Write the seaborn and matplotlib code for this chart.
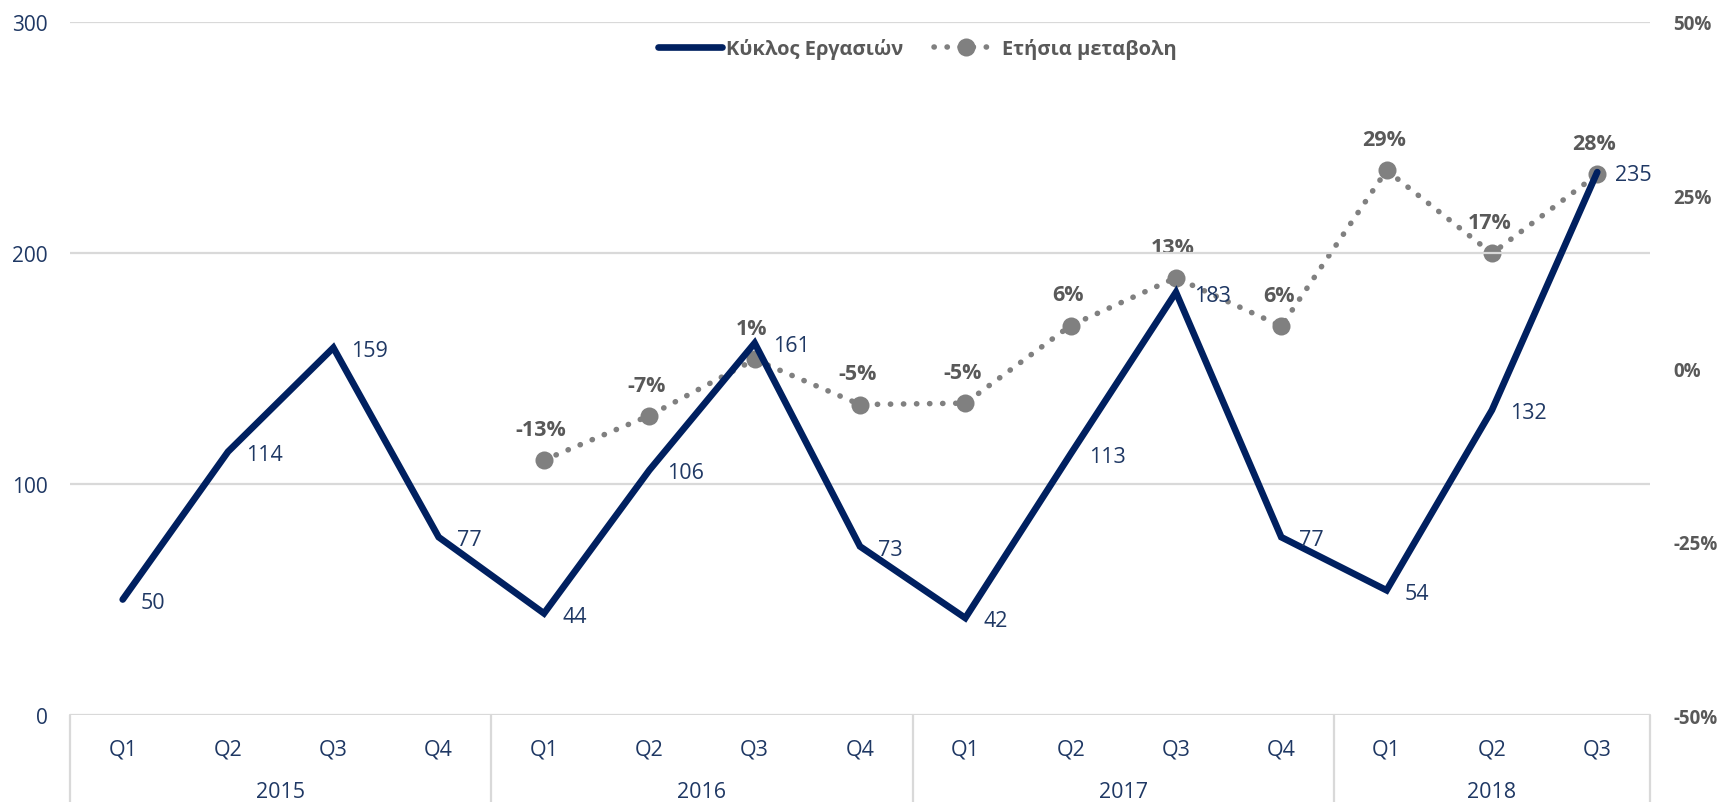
import numpy as np
import pandas as pd
import matplotlib
matplotlib.use("Agg")
import matplotlib.pyplot as plt
import matplotlib.transforms as mtrans
import seaborn as sns

# ----------------------------------------------------------
# Data
# ----------------------------------------------------------

years = ["2015", "2016", "2017", "2018"]
quarters = ["Q1", "Q2", "Q3", "Q4", "Q1", "Q2", "Q3", "Q4",
            "Q1", "Q2", "Q3", "Q4", "Q1", "Q2", "Q3"]
quarters_per_year = [4, 4, 4, 3]

turnover = [50, 114, 159, 77, 44, 106, 161, 73, 42, 113, 183, 77, 54, 132, 235]
yoy_change = [np.nan, np.nan, np.nan, np.nan,
              -13.2, -6.8, 1.3, -5.2, -5.0, 6.2, 13.1, 6.1, 28.6, 16.6, 28.0]

left_ticks = [0, 100, 200, 300]
right_ticks = [-50, -25, 0, 25, 50]

NAVY = "#002060"
LABEL_BLUE = "#1F3864"
GREY = "#808080"
DARK_GREY = "#595959"
GRID = "#D9D9D9"

# ----------------------------------------------------------
# Settings
# ----------------------------------------------------------

sns.set_theme(style="white")
plt.rcParams["font.family"] = ["Open Sans", "DejaVu Sans"]

df = pd.DataFrame({
    "pos": np.arange(len(quarters)) + 0.5,
    "quarter": quarters,
    "turnover": turnover,
    "yoy": yoy_change,
})

fig = plt.figure(figsize=(17.21, 8.03), dpi=100)
ax = fig.add_axes([0.0407, 0.1083, 0.918, 0.8631])
ax2 = ax.twinx()

# ----------------------------------------------------------
# Lines
# ----------------------------------------------------------

sns.lineplot(data=df, x="pos", y="turnover", ax=ax, color=NAVY,
             linewidth=4.8, sort=False, solid_joinstyle="miter",
             label="Κύκλος Εργασιών", legend=False)

sns.lineplot(data=df.dropna(), x="pos", y="yoy", ax=ax2, color=GREY,
             linewidth=4.0, sort=False, marker="o", markersize=13,
             markeredgewidth=0, dashes=False, legend=False,
             label="Ετήσια μεταβολη")
for ln in ax2.get_lines():
    ln.set_linestyle((0, (0.05, 2.3)))
    ln.set_dash_capstyle("round")

# ----------------------------------------------------------
# Data labels
# ----------------------------------------------------------

for x, v in zip(df["pos"], df["turnover"]):
    ax.annotate(f"{v}", (x, v), xytext=(13, -2), textcoords="offset points",
                ha="left", va="center", fontsize=15.5, color=LABEL_BLUE)

for x, v in zip(df["pos"], df["yoy"]):
    if np.isnan(v):
        continue
    ax2.annotate(f"{v:.0f}%", (x, v), xytext=(-2, 22), textcoords="offset points",
                 ha="center", va="center", fontsize=15.5, color=DARK_GREY,
                 fontweight="bold")

# ----------------------------------------------------------
# Axes
# ----------------------------------------------------------

ax.set_xlim(0, len(quarters))
ax.set_ylim(0, 300)
ax2.set_ylim(-50, 50)

ax.set_yticks(left_ticks)
ax.set_yticklabels([str(t) for t in left_ticks], fontsize=15, color=LABEL_BLUE)
ax2.set_yticks(right_ticks)
ax2.set_yticklabels([f"{t}%" for t in right_ticks], fontsize=13.5,
                    color=DARK_GREY, fontweight="bold")
ax.tick_params(axis="y", length=0, pad=16)
ax2.tick_params(axis="y", length=0, pad=17)

ax.set_xticks([])
ax.set_xlabel("")
ax.set_ylabel("")
ax2.set_ylabel("")

for a in (ax, ax2):
    for s in a.spines.values():
        s.set_visible(False)

ax.grid(False)
ax2.grid(False)
for t in left_ticks:
    ax.axhline(t, color=GRID, linewidth=1.6, zorder=0)
ax.set_zorder(ax2.get_zorder() + 1)
ax.patch.set_visible(False)

# multi-level category axis
trans = mtrans.blended_transform_factory(ax.transData, ax.transAxes)
for x, q in zip(df["pos"], df["quarter"]):
    ax.text(x, -0.049, q, transform=trans, ha="center", va="center",
            fontsize=15.5, color=LABEL_BLUE)

start = 0
bounds = [0]
for y, n in zip(years, quarters_per_year):
    ax.text(start + n / 2, -0.11, y, transform=trans, ha="center",
            va="center", fontsize=15.5, color=LABEL_BLUE)
    start += n
    bounds.append(start)

for b in bounds:
    ax.plot([b, b], [0, -0.14], transform=trans, color=GRID,
            linewidth=1.6, clip_on=False)

# ----------------------------------------------------------
# Legend
# ----------------------------------------------------------

h1, l1 = ax.get_legend_handles_labels()
h2, l2 = ax2.get_legend_handles_labels()
leg = fig.legend(h1 + h2, l1 + l2, loc="center", ncol=2,
                 bbox_to_anchor=(0.533, 0.938), frameon=False,
                 fontsize=14.5, handlelength=3.2, columnspacing=1.5,
                 handletextpad=0.2)
for txt in leg.get_texts():
    txt.set_color(DARK_GREY)
    txt.set_fontweight("bold")

fig.savefig("out.png", dpi=100)
